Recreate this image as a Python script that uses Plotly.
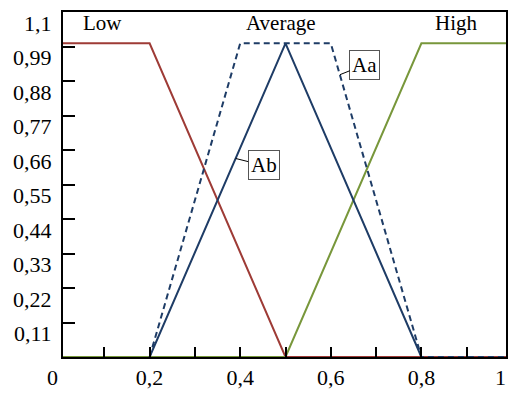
import plotly.graph_objects as go

# ---- data ----
x_low = [0, 0.2, 0.5, 1]
y_low = [1, 1, 0, 0]
x_high = [0, 0.5, 0.8, 1]
y_high = [0, 0, 1, 1]
x_ab = [0.2, 0.5, 0.8]
y_ab = [0, 1, 0]
x_aa = [0.2, 0.4, 0.6, 0.8, 1]
y_aa = [0, 1, 1, 0, 0]

x_tickvals = [0.1, 0.2, 0.3, 0.4, 0.5, 0.6, 0.7, 0.8, 0.9]
x_ticktext = ["", "0,2", "", "0,4", "", "0,6", "", "0,8", ""]
x_edge_text = ["0", "1"]
y_tickvals = [0.11, 0.22, 0.33, 0.44, 0.55, 0.66, 0.77, 0.88, 0.99, 1.1]
y_ticktext = ["0,11", "0,22", "0,33", "0,44", "0,55", "0,66", "0,77", "0,88", "0,99", "1,1"]

term_names = ["Low", "Average", "High"]
term_x = [0.097, 0.491, 0.877]
callout_names = ["Aa", "Ab"]

RED = "#9E3B36"
GREEN = "#78973B"
BLUE = "#1E3C66"
FONT = "Liberation Serif"

X_RANGE = [0.0088, 0.9868]
Y_RANGE = [0, 1.1]

fig = go.Figure()
fig.add_trace(go.Scatter(x=x_low, y=y_low, mode="lines", line=dict(color=RED, width=2), name="Low"))
fig.add_trace(go.Scatter(x=x_high, y=y_high, mode="lines", line=dict(color=GREEN, width=2), name="High"))
fig.add_trace(go.Scatter(x=x_ab, y=y_ab, mode="lines", line=dict(color=BLUE, width=2), name="Ab"))
fig.add_trace(go.Scatter(x=x_aa, y=y_aa, mode="lines", line=dict(color=BLUE, width=2, dash="6px,4px"), name="Aa"))

annotations = []
for name, xv in zip(term_names, term_x):
    annotations.append(dict(x=xv, y=1.065, xref="x", yref="y", text=name, showarrow=False,
                            xanchor="center", font=dict(family=FONT, size=21, color="black")))
# edge labels of the x axis ("0" at left edge, "1" at right edge)
annotations.append(dict(x=0, y=0, xref="paper", yref="paper", text=x_edge_text[0], showarrow=False,
                        xanchor="center", yanchor="top", yshift=-6, xshift=-11,
                        font=dict(family=FONT, size=22, color="black")))
annotations.append(dict(x=1, y=0, xref="paper", yref="paper", text=x_edge_text[1], showarrow=False,
                        xanchor="right", yanchor="top", yshift=-6, xshift=2,
                        font=dict(family=FONT, size=22, color="black")))
# callouts
annotations.append(dict(x=0.62, y=0.9, xref="x", yref="y", text=callout_names[0], showarrow=True,
                        arrowhead=0, arrowwidth=1, arrowcolor="black", ax=25, ay=-10,
                        bordercolor="#555555", borderwidth=1, borderpad=2, bgcolor="white",
                        font=dict(family=FONT, size=21, color="black")))
annotations.append(dict(x=0.39, y=0.633, xref="x", yref="y", text=callout_names[1], showarrow=True,
                        arrowhead=0, arrowwidth=1, arrowcolor="black", ax=28, ay=7,
                        bordercolor="#555555", borderwidth=1, borderpad=2, bgcolor="white",
                        font=dict(family=FONT, size=21, color="black")))

fig.update_layout(
    width=508, height=394,
    margin=dict(l=63, r=2, t=12, b=37, autoexpand=False),
    paper_bgcolor="white", plot_bgcolor="white",
    showlegend=False,
    font=dict(family=FONT, size=22, color="black"),
    annotations=annotations,
    xaxis=dict(range=X_RANGE, tickmode="array", tickvals=x_tickvals, ticktext=x_ticktext,
               ticks="inside", ticklen=10, tickwidth=2, tickcolor="black",
               showline=True, linecolor="black", linewidth=2, mirror=True, automargin=False,
               ticklabeloverflow="allow",
               showgrid=False, zeroline=False, tickfont=dict(family=FONT, size=22, color="black")),
    yaxis=dict(range=Y_RANGE, tickmode="array", tickvals=y_tickvals, ticktext=y_ticktext,
               ticks="inside", ticklen=12, tickwidth=2, tickcolor="black",
               showline=True, linecolor="black", linewidth=2, mirror=True, automargin=False,
               ticklabelshift=11, ticklabelstandoff=5, ticklabeloverflow="allow",
               showgrid=False, zeroline=False, tickfont=dict(family=FONT, size=22, color="black")),
)

fig.write_html("out.html", config={"displayModeBar": False},
               post_script="document.body.style.margin='0px';")
